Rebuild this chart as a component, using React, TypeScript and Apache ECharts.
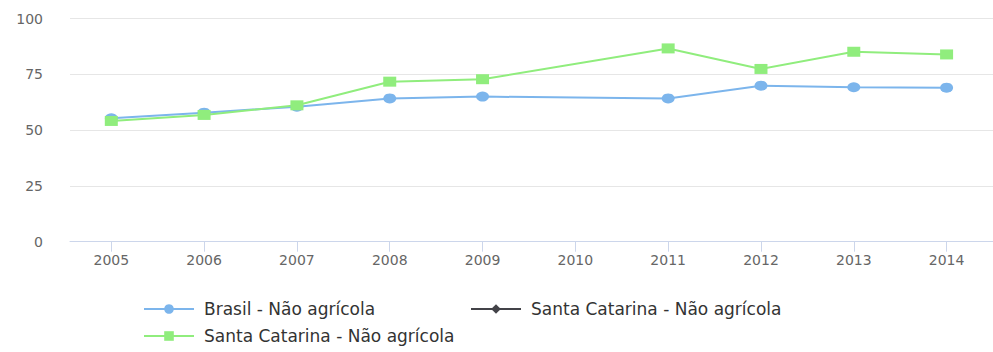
import React, { useEffect, useRef } from 'react';
import * as echarts from 'echarts';

const years = ['2005', '2006', '2007', '2008', '2009', '2010', '2011', '2012', '2013', '2014'];
const brasilNaoAgricola = [55.3, 57.8, 60.5, 64.2, 65.0, null, 64.2, 69.9, 69.2, 69.0];
const scBlackNaoAgricola: (number | null)[] = [];
const scGreenNaoAgricola = [54.1, 56.8, 61.1, 71.7, 72.8, null, 86.6, 77.4, 85.1, 83.9];
const yMin = 0;
const yMax = 100;
const yStep = 25;
const seriesNames = [
  'Brasil - Não agrícola',
  'Santa Catarina - Não agrícola',
  'Santa Catarina - Não agrícola ',
];

const FONT = 'DejaVu Sans';

export default function App() {
  const ref = useRef<HTMLDivElement>(null);
  useEffect(() => {
    document.body.style.margin = '0';
    const chart = echarts.init(ref.current!, null, { renderer: 'svg' });
    const legendText = {
      fontSize: 17,
      fontWeight: 'normal' as const,
      color: '#333333',
      fontFamily: FONT,
      padding: [0, 0, 0, 5],
    };
    const legendCommon = {
      orient: 'horizontal' as const,
      padding: 0,
      itemWidth: 50,
      itemHeight: 12,
      selectedMode: false,
      textStyle: legendText,
      formatter: (n: string) => n.trim(),
    };
    chart.setOption({
      animation: false,
      grid: [
        { left: 70, top: 18.5, width: 926, height: 223.2 },
        { left: 64.9, top: 18.5, width: 935.8, height: 223.2 },
      ],
      xAxis: [
        {
          gridIndex: 0,
          type: 'value',
          min: 0,
          max: 1,
          axisLine: { show: true, lineStyle: { color: '#ccd6eb', width: 1 } },
          axisTick: { show: false },
          axisLabel: { show: false },
          splitLine: { show: false },
          z: 5,
        },
        {
          gridIndex: 1,
          type: 'category',
          data: years,
          boundaryGap: true,
          axisLine: { show: false },
          axisTick: { show: true, alignWithLabel: true, length: 10, lineStyle: { color: '#ccd6eb' } },
          axisLabel: { color: '#666666', fontSize: 14, fontFamily: FONT, margin: 11 },
          splitLine: { show: false },
        },
      ],
      yAxis: [
        {
          gridIndex: 0,
          type: 'value',
          min: yMin,
          max: yMax,
          interval: yStep,
          axisLine: { show: false },
          axisTick: { show: false },
          axisLabel: { color: '#666666', fontSize: 14, fontFamily: FONT, margin: 27 },
          splitLine: { show: true, lineStyle: { color: '#e6e6e6', width: 1 } },
        },
        { gridIndex: 1, type: 'value', min: yMin, max: yMax, show: false },
      ],
      legend: [
        { ...legendCommon, data: [seriesNames[0]], left: 143, top: 300.5 },
        { ...legendCommon, data: [seriesNames[1]], left: 470, top: 300.5 },
        { ...legendCommon, data: [seriesNames[2]], left: 143, top: 327.5 },
      ],
      series: [
        {
          name: seriesNames[0],
          type: 'line',
          xAxisIndex: 1,
          yAxisIndex: 1,
          data: brasilNaoAgricola,
          connectNulls: true,
          symbol: 'circle',
          symbolSize: [13, 10],
          showAllSymbol: true,
          lineStyle: { width: 2, color: '#7cb5ec' },
          itemStyle: { color: '#7cb5ec' },
          emphasis: { disabled: true },
        },
        {
          name: seriesNames[1],
          type: 'line',
          xAxisIndex: 1,
          yAxisIndex: 1,
          data: scBlackNaoAgricola,
          connectNulls: true,
          symbol: 'diamond',
          symbolSize: [13, 10],
          lineStyle: { width: 2, color: '#434348' },
          itemStyle: { color: '#434348' },
          emphasis: { disabled: true },
        },
        {
          name: seriesNames[2],
          type: 'line',
          xAxisIndex: 1,
          yAxisIndex: 1,
          data: scGreenNaoAgricola,
          connectNulls: true,
          symbol: 'rect',
          symbolSize: [13, 10],
          showAllSymbol: true,
          lineStyle: { width: 2, color: '#90ed7d' },
          itemStyle: { color: '#90ed7d' },
          emphasis: { disabled: true },
        },
      ],
    });
    return () => chart.dispose();
  }, []);
  return (
    <div
      ref={ref}
      style={{ position: 'absolute', left: 0, top: 0, width: 993, height: 352 }}
    />
  );
}
